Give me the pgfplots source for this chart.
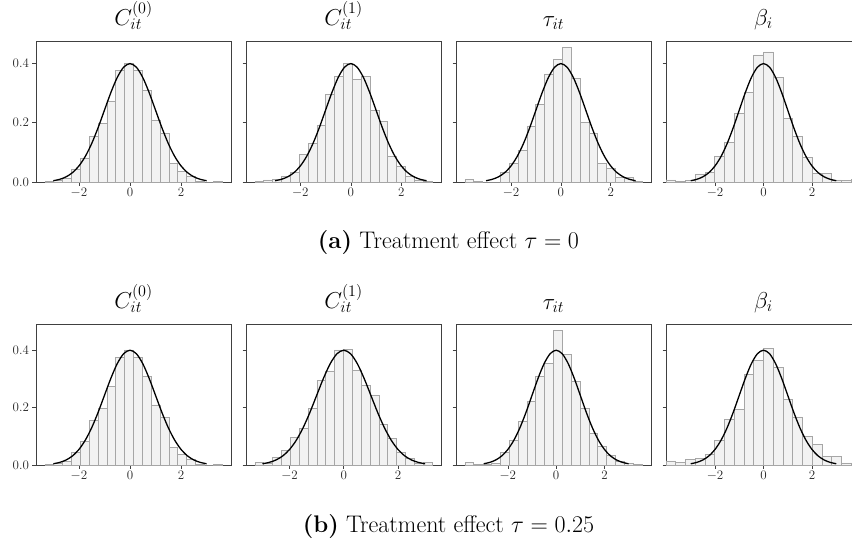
\RequirePackage{fix-cm}
\documentclass[border=0pt]{standalone}
\usepackage{pgfplots}
\usepackage{pgfplotstable}
\pgfplotsset{compat=1.18}

\pgfplotstableread{
x y
-3.00 0.0044
-2.75 0.0091
-2.50 0.0175
-2.25 0.0317
-2.00 0.0540
-1.75 0.0863
-1.50 0.1295
-1.25 0.1826
-1.00 0.2420
-0.75 0.3011
-0.50 0.3521
-0.25 0.3867
0.00 0.3989
0.25 0.3867
0.50 0.3521
0.75 0.3011
1.00 0.2420
1.25 0.1826
1.50 0.1295
1.75 0.0863
2.00 0.0540
2.25 0.0317
2.50 0.0175
2.75 0.0091
3.00 0.0044
}\pdftab

% C^(0), both rows
\pgfplotstableread{
x y
-3.333 0.003
-2.986 0.007
-2.639 0.012
-2.292 0.044
-1.945 0.081
-1.598 0.154
-1.251 0.197
-0.904 0.273
-0.557 0.375
-0.210 0.400
0.137 0.375
0.484 0.308
0.831 0.209
1.178 0.164
1.525 0.062
1.872 0.037
2.219 0.018
2.566 0.003
2.913 0.000
3.260 0.003
3.607 0.003
}\hCzero

% C^(1), top
\pgfplotstableread{
x y
-3.800 0.003
-3.449 0.007
-3.098 0.009
-2.747 0.018
-2.396 0.031
-2.045 0.093
-1.694 0.130
-1.343 0.192
-0.992 0.294
-0.641 0.357
-0.290 0.400
0.061 0.346
0.412 0.355
0.763 0.240
1.114 0.203
1.465 0.085
1.816 0.052
2.167 0.018
2.518 0.007
2.869 0.003
3.220 0.003
}\hConeA

% tau, top
\pgfplotstableread{
x y
-3.850 0.008
-3.495 0.003
-3.139 0.000
-2.784 0.000
-2.428 0.033
-2.073 0.063
-1.717 0.106
-1.362 0.189
-1.006 0.262
-0.651 0.364
-0.295 0.413
0.060 0.453
0.416 0.349
0.771 0.200
1.127 0.164
1.482 0.063
1.838 0.046
2.193 0.016
2.549 0.016
2.904 0.003
3.260 0.003
}\hTauA

% beta, top
\pgfplotstableread{
x y
-4.020 0.007
-3.618 0.002
-3.216 0.004
-2.814 0.027
-2.412 0.033
-2.010 0.085
-1.608 0.133
-1.206 0.231
-0.804 0.302
-0.402 0.428
0.000 0.438
0.402 0.352
0.804 0.215
1.206 0.153
1.608 0.082
2.010 0.029
2.412 0.029
2.814 0.007
3.216 0.006
3.618 0.010
4.020 0.010
}\hBetaA

% C^(1), bottom
\pgfplotstableread{
x y
-3.280 0.010
-2.953 0.005
-2.626 0.026
-2.299 0.050
-1.972 0.097
-1.645 0.127
-1.318 0.197
-0.991 0.295
-0.664 0.327
-0.337 0.400
-0.010 0.402
0.317 0.330
0.644 0.277
0.971 0.242
1.298 0.141
1.625 0.092
1.952 0.045
2.279 0.024
2.606 0.005
2.933 0.010
3.260 0.010
}\hConeB

% tau, bottom
\pgfplotstableread{
x y
-3.780 0.008
-3.413 0.002
-3.046 0.002
-2.679 0.005
-2.312 0.043
-1.945 0.086
-1.578 0.152
-1.211 0.220
-0.844 0.307
-0.477 0.353
-0.110 0.467
0.257 0.385
0.624 0.290
0.991 0.197
1.358 0.109
1.725 0.065
2.092 0.034
2.459 0.014
2.826 0.005
3.193 0.002
3.560 0.002
}\hTauB

% beta, bottom
\pgfplotstableread{
x y
-4.020 0.014
-3.618 0.010
-3.216 0.019
-2.814 0.024
-2.412 0.036
-2.010 0.084
-1.608 0.158
-1.206 0.194
-0.804 0.315
-0.402 0.362
0.000 0.406
0.402 0.340
0.804 0.228
1.206 0.167
1.608 0.100
2.010 0.072
2.412 0.030
2.814 0.030
3.216 0.007
3.618 0.007
4.020 0.007
}\hBetaB

\pgfplotsset{
  hist/.style={
    width=195pt, height=141pt, scale only axis,
    anchor=north west,
    axis line style={black!75, line width=0.8pt},
    tick pos=left, tick align=outside,
    major tick length=3.5pt,
    tick style={black!75, line width=0.6pt},
    xtick={-2,0,2}, ytick={0,0.2,0.4},
    yticklabels={},
    ymin=0,
    tick label style={font=\fontsize{13}{15}\selectfont, text=black!85},
    xticklabel style={yshift=1pt},
    title style={font=\fontsize{23}{27}\selectfont, at={(0.5,1)}, anchor=south, yshift=5pt, inner sep=0pt},
  },
  firstcol/.style={yticklabels={$0.0$,$0.2$,$0.4$}},
  bars/.style={ybar interval, fill=black!5, draw=black!35, line width=0.7pt},
  pdfline/.style={black, line width=1.3pt, smooth, no marks},
}

\begin{document}
\begin{tikzpicture}
\useasboundingbox (0pt,0pt) rectangle (852pt,-542pt);

% ---------- top row ----------
\begin{axis}[hist, firstcol, at={(36pt,-41pt)}, ymax=0.475, xmin=-3.68, xmax=3.954, title={$C_{it}^{(0)}$}]
\addplot[bars] table {\hCzero};
\addplot[pdfline] table {\pdftab};
\end{axis}

\begin{axis}[hist, at={(246pt,-41pt)}, ymax=0.475, xmin=-4.151, xmax=3.571, title={$C_{it}^{(1)}$}]
\addplot[bars] table {\hConeA};
\addplot[pdfline] table {\pdftab};
\end{axis}

\begin{axis}[hist, at={(456pt,-41pt)}, ymax=0.475, xmin=-4.2055, xmax=3.6155, title={$\tau_{it}$}]
\addplot[bars] table {\hTauA};
\addplot[pdfline] table {\pdftab};
\end{axis}

\begin{axis}[hist, at={(666pt,-41pt)}, ymax=0.475, xmin=-4.02, xmax=4.02, title={$\beta_{i}$}]
\addplot[bars] table {\hBetaA};
\addplot[pdfline] table {\pdftab};
\end{axis}

\node[anchor=base, font=\fontsize{24}{28}\selectfont] at (448.5pt,-248pt) {\textbf{(a)} Treatment effect $\tau=0$};

% ---------- bottom row ----------
\begin{axis}[hist, firstcol, at={(36pt,-324pt)}, ymax=0.49, xmin=-3.68, xmax=3.954, title={$C_{it}^{(0)}$}]
\addplot[bars] table {\hCzero};
\addplot[pdfline] table {\pdftab};
\end{axis}

\begin{axis}[hist, at={(246pt,-324pt)}, ymax=0.49, xmin=-3.607, xmax=3.587, title={$C_{it}^{(1)}$}]
\addplot[bars] table {\hConeB};
\addplot[pdfline] table {\pdftab};
\end{axis}

\begin{axis}[hist, at={(456pt,-324pt)}, ymax=0.49, xmin=-4.147, xmax=3.927, title={$\tau_{it}$}]
\addplot[bars] table {\hTauB};
\addplot[pdfline] table {\pdftab};
\end{axis}

\begin{axis}[hist, at={(666pt,-324pt)}, ymax=0.49, xmin=-4.02, xmax=4.02, title={$\beta_{i}$}]
\addplot[bars] table {\hBetaB};
\addplot[pdfline] table {\pdftab};
\end{axis}

\node[anchor=base, font=\fontsize{24}{28}\selectfont] at (448.5pt,-532pt) {\textbf{(b)} Treatment effect $\tau=0.25$};
\end{tikzpicture}
\end{document}
